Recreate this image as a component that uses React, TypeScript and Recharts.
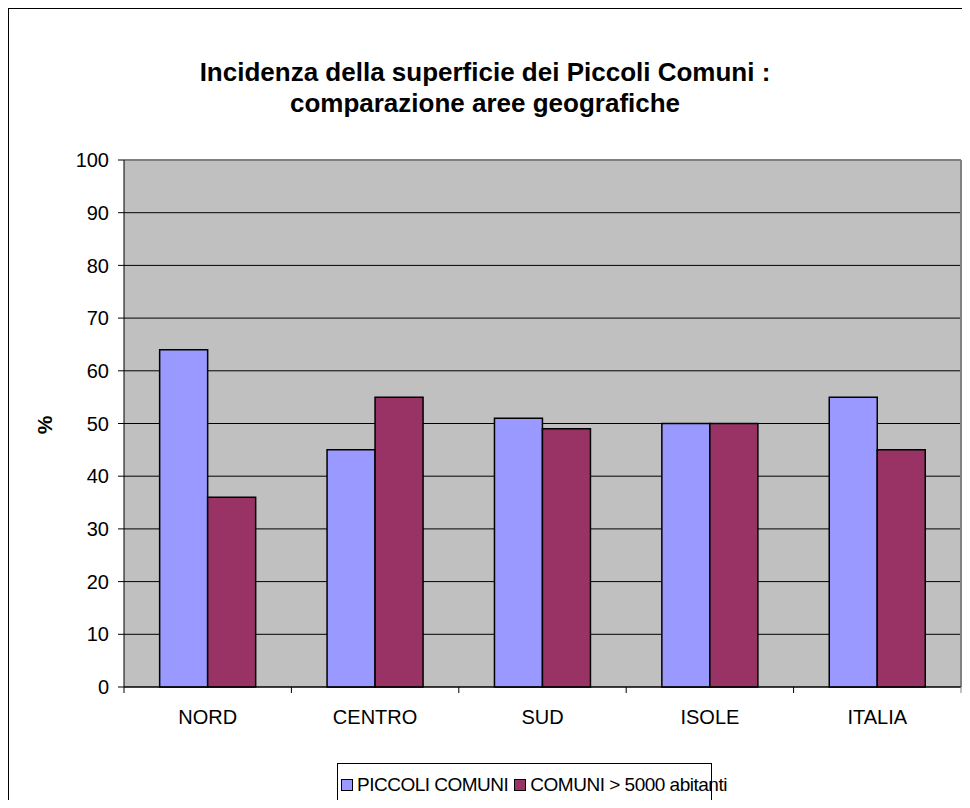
import React from "react";
import {
  BarChart,
  Bar,
  XAxis,
  YAxis,
  CartesianGrid,
  Legend,
} from "recharts";

const aree = ["NORD", "CENTRO", "SUD", "ISOLE", "ITALIA"];
const piccoliComuni = [64, 45, 51, 50, 55];
const comuniGrandi = [36, 55, 49, 50, 45];
const yTicks = [0, 10, 20, 30, 40, 50, 60, 70, 80, 90, 100];

const BLUE = "#9999FF";
const PLUM = "#993366";
const FONT = "'Liberation Sans', Arial, sans-serif";
const X_TICK_MARGIN = 23;

const data = aree.map((area, i) => ({
  area,
  piccoli: piccoliComuni[i],
  grandi: comuniGrandi[i],
}));

// category label plus the small tick marks Excel puts between categories
function AreaTick(props: any) {
  const { x, y, payload, index, visibleTicksCount } = props;
  const half = payload.offset || 0;
  const axisY = y - X_TICK_MARGIN;
  const last = index === visibleTicksCount - 1;
  return (
    <g>
      <line x1={x - half} x2={x - half} y1={axisY} y2={axisY + 6} stroke="#000" />
      {last && (
        <line x1={x + half} x2={x + half} y1={axisY} y2={axisY + 6} stroke="#808080" />
      )}
      <text
        x={x}
        y={y}
        dy="0.71em"
        textAnchor="middle"
        fontSize={20}
        fontFamily={FONT}
        fill="#000"
      >
        {payload.value}
      </text>
    </g>
  );
}

function LegendBox() {
  const swatch = (color: string) => (
    <span
      style={{
        display: "inline-block",
        flexShrink: 0,
        width: 10,
        height: 10,
        background: color,
        border: "1px solid #000",
        marginRight: 4,
      }}
    />
  );
  return (
    <div
      style={{
        width: 375,
        height: 44,
        boxSizing: "border-box",
        border: "1px solid #000",
        background: "#fff",
        fontFamily: FONT,
        fontSize: 19,
        letterSpacing: -0.5,
        color: "#000",
        display: "flex",
        alignItems: "center",
        paddingLeft: 3,
        whiteSpace: "nowrap",
      }}
    >
      {swatch(BLUE)}
      <span style={{ marginRight: 6 }}>PICCOLI COMUNI</span>
      {swatch(PLUM)}
      <span>COMUNI &gt; 5000 abitanti</span>
    </div>
  );
}

export default function App() {
  return (
    <div
      style={{
        position: "relative",
        width: 962,
        height: 800,
        marginBottom: -8,
        boxSizing: "border-box",
        borderTop: "1px solid #000",
        borderLeft: "1px solid #000",
        overflow: "hidden",
        background: "#fff",
        fontFamily: FONT,
      }}
    >
      <div
        style={{
          position: "absolute",
          left: 0,
          width: 952,
          top: 48,
          textAlign: "center",
          fontWeight: "bold",
          fontSize: 26,
          lineHeight: "31px",
          color: "#000",
        }}
      >
        Incidenza della superficie dei Piccoli Comuni :
        <br />
        comparazione aree geografiche
      </div>
      <div
        style={{
          position: "absolute",
          left: 36,
          top: 416,
          transform: "translate(-50%, -50%) rotate(-90deg)",
          fontWeight: "bold",
          fontSize: 21,
          color: "#000",
        }}
      >
        %
      </div>
      <BarChart
        width={961}
        height={799}
        data={data}
        margin={{ top: 151, right: 9, left: 55, bottom: 1 }}
        barCategoryGap="21.3%"
        barGap={0}
      >
        <CartesianGrid
          horizontal
          vertical={false}
          stroke="#000"
          strokeWidth={1}
          fill="#C0C0C0"
          fillOpacity={1}
        />
        {/* gray plot-area frame on top and right */}
        <CartesianGrid
          stroke="#808080"
          strokeWidth={2}
          horizontalCoordinatesGenerator={({ offset }: any) => [offset.top]}
          verticalCoordinatesGenerator={({ offset }: any) => [offset.left + offset.width]}
        />
        <XAxis
          dataKey="area"
          height={76}
          axisLine={{ stroke: "#000" }}
          tickLine={false}
          tickSize={0}
          tickMargin={X_TICK_MARGIN}
          tick={AreaTick}
        />
        <YAxis
          domain={[0, 100]}
          ticks={yTicks}
          width={60}
          tickSize={6}
          tickMargin={9}
          axisLine={{ stroke: "#000" }}
          tickLine={{ stroke: "#000" }}
          tick={{ fontSize: 20, fill: "#000", fontFamily: FONT }}
        />
        <Bar
          dataKey="piccoli"
          name="PICCOLI COMUNI"
          fill={BLUE}
          stroke="#000"
          strokeWidth={1.5}
          isAnimationActive={false}
        />
        <Bar
          dataKey="grandi"
          name="COMUNI > 5000 abitanti"
          fill={PLUM}
          stroke="#000"
          strokeWidth={1.5}
          isAnimationActive={false}
        />
        <Legend
          verticalAlign="bottom"
          content={() => <LegendBox />}
          wrapperStyle={{ left: 328, width: 375 }}
        />
      </BarChart>
    </div>
  );
}
